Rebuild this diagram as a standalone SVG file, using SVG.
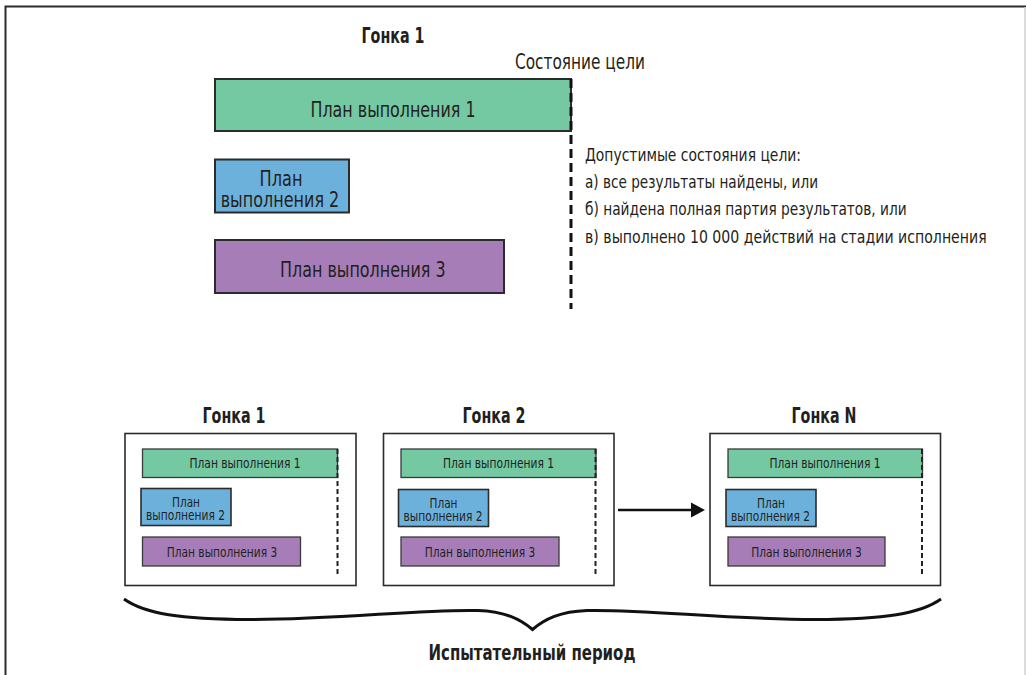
<svg xmlns="http://www.w3.org/2000/svg" width="1026" height="675" viewBox="0 0 1026 675">
<style>
text{font-family:'Liberation Sans Narrow','DejaVu Sans Condensed','Liberation Sans',sans-serif;fill:#231f20}
.h{font-weight:bold;font-size:22px}
.l{font-size:22px}
.r{font-size:18.5px}
.s{font-size:14px}
.m{text-anchor:middle}
.g{fill:#74c8a2;stroke:#2b2b2b;stroke-width:2}
.b{fill:#6cb1dc;stroke:#2b2b2b;stroke-width:2}
.p{fill:#a77db8;stroke:#2b2b2b;stroke-width:2}
.gs{fill:#74c8a2;stroke:#3a3a3a;stroke-width:1.3}
.bs{fill:#6cb1dc;stroke:#2b2b2b;stroke-width:1.6}
.ps{fill:#a77db8;stroke:#3a3a3a;stroke-width:1.3}
.box{fill:#fff;stroke:#2b2b2b;stroke-width:1.6}
.dl{stroke:#111;stroke-width:3;stroke-dasharray:9,5;fill:none}
.ds{stroke:#222;stroke-width:2;stroke-dasharray:5,3;fill:none}
</style>
<rect width="1026" height="675" fill="#fff"/>
<path d="M5.5,675 V6.5 H1026" fill="none" stroke="#2b2b2b" stroke-width="2"/>
<line x1="1025" y1="7" x2="1025" y2="675" stroke="#d0d0d0" stroke-width="1.5"/>

<g id="top-race">
<text class="h m" x="393" y="43.3" textLength="63" lengthAdjust="spacingAndGlyphs">Гонка 1</text>
<text class="l" x="515" y="69.3" textLength="130" lengthAdjust="spacingAndGlyphs">Состояние цели</text>
</g>
<g id="plan1">
<rect class="g" x="215" y="79" width="356" height="52"/>
<text class="l m" x="393" y="116.7" textLength="165" lengthAdjust="spacingAndGlyphs">План выполнения 1</text>
</g>
<g id="plan2">
<rect class="b" x="215" y="159.5" width="134" height="53"/>
<text class="l m" x="281" y="185.7" textLength="43" lengthAdjust="spacingAndGlyphs">План</text>
<text class="l m" x="280" y="206.7" textLength="118.6" lengthAdjust="spacingAndGlyphs">выполнения 2</text>
</g>
<g id="plan3">
<rect class="p" x="215" y="240" width="289" height="53"/>
<text class="l m" x="362.8" y="276.7" textLength="165.7" lengthAdjust="spacingAndGlyphs">План выполнения 3</text>
</g>
<g id="goal-line">
<line class="dl" x1="571" y1="79" x2="571" y2="309"/>
</g>
<g id="goal-states">
<text class="r" x="585" y="160.5" textLength="216" lengthAdjust="spacingAndGlyphs">Допустимые состояния цели:</text>
<text class="r" x="585" y="187.7" textLength="233" lengthAdjust="spacingAndGlyphs">а) все результаты найдены, или</text>
<text class="r" x="585" y="215" textLength="321.7" lengthAdjust="spacingAndGlyphs">б) найдена полная партия результатов, или</text>
<text class="r" x="585" y="242.5" textLength="401.7" lengthAdjust="spacingAndGlyphs">в) выполнено 10 000 действий на стадии исполнения</text>
</g>

<g id="race1">
<text class="h m" x="234" y="423.3" textLength="63" lengthAdjust="spacingAndGlyphs">Гонка 1</text>
<rect class="box" x="125" y="433.5" width="231" height="152"/>
<rect class="gs" x="142.5" y="449" width="195" height="28.5"/>
<text class="s m" x="245" y="468.3" textLength="111" lengthAdjust="spacingAndGlyphs">План выполнения 1</text>
<rect class="bs" x="141" y="488.5" width="90" height="37"/>
<text class="s m" x="186" y="506.7" textLength="28" lengthAdjust="spacingAndGlyphs">План</text>
<text class="s m" x="185.5" y="520" textLength="79" lengthAdjust="spacingAndGlyphs">выполнения 2</text>
<rect class="ps" x="142.5" y="537" width="158" height="29"/>
<text class="s m" x="222" y="556.7" textLength="110.6" lengthAdjust="spacingAndGlyphs">План выполнения 3</text>
<line class="ds" x1="337.5" y1="449" x2="337.5" y2="574"/>
</g>

<g id="race2">
<text class="h m" x="494" y="423.3" textLength="63" lengthAdjust="spacingAndGlyphs">Гонка 2</text>
<rect class="box" x="383.5" y="433.5" width="230.5" height="152"/>
<rect class="gs" x="401" y="449" width="195" height="28.5"/>
<text class="s m" x="498.5" y="468.3" textLength="111" lengthAdjust="spacingAndGlyphs">План выполнения 1</text>
<rect class="bs" x="398.5" y="489.5" width="90" height="37"/>
<text class="s m" x="443.5" y="507.5" textLength="28" lengthAdjust="spacingAndGlyphs">План</text>
<text class="s m" x="443" y="521" textLength="79" lengthAdjust="spacingAndGlyphs">выполнения 2</text>
<rect class="ps" x="401" y="537" width="158" height="29"/>
<text class="s m" x="480" y="556.7" textLength="110.6" lengthAdjust="spacingAndGlyphs">План выполнения 3</text>
<line class="ds" x1="595.5" y1="449" x2="595.5" y2="574"/>
</g>

<g id="raceN">
<text class="h m" x="824" y="423.3" textLength="65" lengthAdjust="spacingAndGlyphs">Гонка N</text>
<rect class="box" x="710" y="433.5" width="230.5" height="152"/>
<rect class="gs" x="728" y="449" width="194.5" height="28.5"/>
<text class="s m" x="825" y="468.3" textLength="111" lengthAdjust="spacingAndGlyphs">План выполнения 1</text>
<rect class="bs" x="726" y="489.5" width="90" height="37"/>
<text class="s m" x="771" y="507.5" textLength="28" lengthAdjust="spacingAndGlyphs">План</text>
<text class="s m" x="770.5" y="521" textLength="79" lengthAdjust="spacingAndGlyphs">выполнения 2</text>
<rect class="ps" x="728" y="537" width="157" height="29"/>
<text class="s m" x="806.5" y="556.7" textLength="110.6" lengthAdjust="spacingAndGlyphs">План выполнения 3</text>
<line class="ds" x1="922" y1="449" x2="922" y2="574"/>
</g>

<g id="connectors">
<line x1="618" y1="510" x2="693" y2="510" stroke="#111" stroke-width="2.5"/>
<polygon points="705,510 691,502.5 691,517.5" fill="#111"/>
<path d="M124,599 C145,614 180,619 250,619.5 C340,619.5 420,609 478,610.5 C505,611.5 520,619 532.5,629.5 C545,619 560,611.5 587,610.5 C645,609 725,619.5 815,619.5 C885,619 920,614 941,599" fill="none" stroke="#111" stroke-width="3"/>
</g>
<g id="trial-label">
<text class="h m" x="532" y="660" textLength="207" lengthAdjust="spacingAndGlyphs">Испытательный период</text>
</g>
</svg>
